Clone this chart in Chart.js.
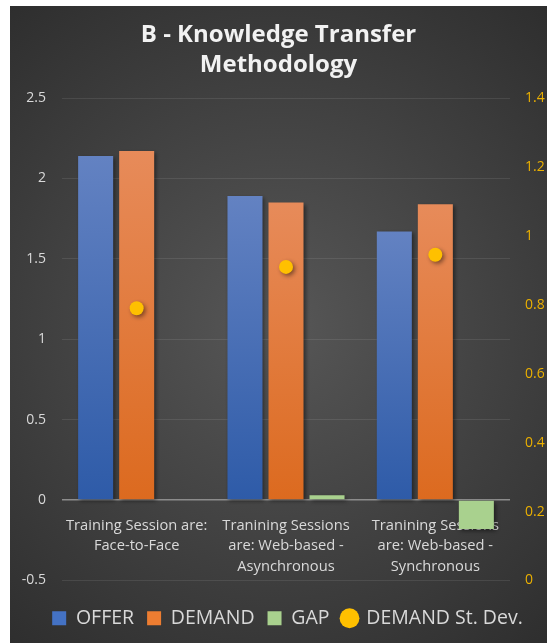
<!DOCTYPE html>
<html>
<head>
<meta charset="utf-8">
<script src="https://cdn.jsdelivr.net/npm/chart.js@4"></script>
<style>
html,body{margin:0;padding:0;background:#fff;}
#wrap{position:absolute;left:10px;top:6px;width:537px;height:637px;}
canvas{display:block;}
</style>
</head>
<body>
<div id="wrap"><canvas id="c" width="537" height="637"></canvas></div>
<script>
const categories = [
  ["Training Session are:", "Face-to-Face"],
  ["Tranining Sessions", "are: Web-based -", "Asynchronous"],
  ["Tranining Sessions", "are: Web-based -", "Synchronous"]
];
const offerValues = [2.14, 1.89, 1.67];
const demandValues = [2.17, 1.85, 1.84];
const gapValues = [0, 0.03, -0.18];
const demandStDev = [0.79, 0.91, 0.945];
const leftTicks = [-0.5, 0, 0.5, 1, 1.5, 2, 2.5];
const rightTicks = [0, 0.2, 0.4, 0.6, 0.8, 1, 1.2, 1.4];

const FONT = "'Open Sans', Lato, sans-serif";
const TXT = '#d9d9d9';

function barGradient(top, bottom) {
  return function(ctx) {
    const chart = ctx.chart;
    if (!chart.chartArea || ctx.raw === undefined) return bottom;
    const y = chart.scales.y;
    const p1 = y.getPixelForValue(ctx.raw);
    const p0 = y.getPixelForValue(0);
    if (Math.abs(p1 - p0) < 1) return bottom;
    const g = chart.ctx.createLinearGradient(0, Math.min(p0,p1), 0, Math.max(p0,p1));
    g.addColorStop(0, top);
    g.addColorStop(1, bottom);
    return g;
  };
}

const bgPlugin = {
  id: 'bg',
  beforeDraw(chart) {
    const c = chart.ctx, w = chart.width, h = chart.height;
    const g = c.createRadialGradient(w*0.5, h*0.5, 0, w*0.5, h*0.5, Math.max(w,h)*0.72);
    g.addColorStop(0, '#575757');
    g.addColorStop(1, '#2a2a2a');
    c.save();
    c.fillStyle = g;
    c.fillRect(0, 0, w, h);
    c.restore();
  }
};
const shadowPlugin = {
  id: 'shadow',
  beforeDatasetDraw(chart) {
    const c = chart.ctx;
    c.save();
    c.shadowColor = 'rgba(0,0,0,0.45)';
    c.shadowBlur = 4;
    c.shadowOffsetX = 2;
    c.shadowOffsetY = 2;
  },
  afterDatasetDraw(chart) {
    chart.ctx.restore();
  }
};
const legendShift = {
  id: 'legendShift',
  afterLayout(chart) {
    if (chart.legend) {
      chart.legend.left += 9;
      chart.legend.right += 9;
    }
  }
};

new Chart(document.getElementById('c'), {
  type: 'bar',
  data: {
    labels: categories,
    datasets: [
      {
        type: 'line',
        label: 'DEMAND St. Dev.',
        data: demandStDev,
        yAxisID: 'y1',
        showLine: false,
        backgroundColor: '#ffc000',
        borderColor: '#ffc000',
        pointRadius: 7,
        pointHoverRadius: 7,
        pointBorderWidth: 0,
        pointStyle: 'circle',
        order: 0
      },
      {
        type: 'bar', label: 'OFFER', data: offerValues, yAxisID: 'y',
        backgroundColor: barGradient('#6382c2', '#2e5ba8'), order: 1
      },
      {
        type: 'bar', label: 'DEMAND', data: demandValues, yAxisID: 'y',
        backgroundColor: barGradient('#e78b5a', '#dc6a1f'), order: 1
      },
      {
        type: 'bar', label: 'GAP', data: gapValues, yAxisID: 'y',
        backgroundColor: '#a9d18e', order: 1
      }
    ]
  },
  options: {
    responsive: false,
    animation: false,
    events: [],
    layout: { padding: { left: 0, right: 0, top: 0, bottom: 5 } },
    datasets: { bar: { categoryPercentage: 0.824, barPercentage: 0.854 } },
    scales: {
      x: {
        type: 'category',
        position: { y: 0 },
        offset: true,
        grid: { display: false, drawTicks: false },
        border: { display: false },
        ticks: { color: TXT, font: { family: FONT, size: 14.7, lineHeight: 1.4 }, padding: 15, maxRotation: 0, autoSkip: false }
      },
      y: {
        position: 'left',
        min: -0.5, max: 2.5,
        afterBuildTicks: s => { s.ticks = leftTicks.map(v => ({value: v})); },
        afterFit: s => { s.width = 52; },
        grid: {
          color: c => c.tick && c.tick.value === 0 ? '#8c8c8c' : 'rgba(255,255,255,0.09)',
          lineWidth: c => c.tick && c.tick.value === 0 ? 1.5 : 1,
          drawTicks: false
        },
        border: { display: false },
        ticks: { color: TXT, font: { family: FONT, size: 14 }, padding: 16,
                 callback: v => String(v) }
      },
      y1: {
        position: 'right',
        min: 0, max: 1.4,
        afterBuildTicks: s => { s.ticks = rightTicks.map(v => ({value: v})); },
        afterFit: s => { s.width = 37; },
        grid: { display: false, drawTicks: false },
        border: { display: false },
        ticks: { color: '#ebb000', font: { family: FONT, size: 14 }, padding: 15,
                 callback: v => String(Math.round(v*10)/10) }
      }
    },
    plugins: {
      tooltip: { enabled: false },
      title: {
        display: true,
        text: ['B - Knowledge Transfer', 'Methodology'],
        color: '#f2f2f2',
        font: { family: FONT, size: 24, weight: 'bold', lineHeight: 1.25 },
        padding: { top: 14, bottom: 18 }
      },
      legend: {
        position: 'bottom',
        title: { display: true, text: ' ', font: { size: 2, lineHeight: 1 }, padding: { top: 6, bottom: 7 } },
        labels: {
          color: TXT,
          font: { family: FONT, size: 19.5 },
          usePointStyle: true,
          boxWidth: 14,
          boxHeight: 14,
          padding: 13,
          generateLabels: chart => {
            const order = [1, 2, 3, 0];
            return order.map(i => {
              const ds = chart.data.datasets[i];
              const solid = { 1: '#4472c4', 2: '#ed7d31', 3: '#a9d18e', 0: '#ffc000' }[i];
              return {
                text: ds.label, fillStyle: solid, strokeStyle: solid, lineWidth: 0,
                pointStyle: i === 0 ? 'circle' : 'rect', datasetIndex: i, fontColor: TXT, hidden: false
              };
            });
          }
        }
      }
    }
  },
  plugins: [bgPlugin, shadowPlugin, legendShift]
});
</script>
</body>
</html>
